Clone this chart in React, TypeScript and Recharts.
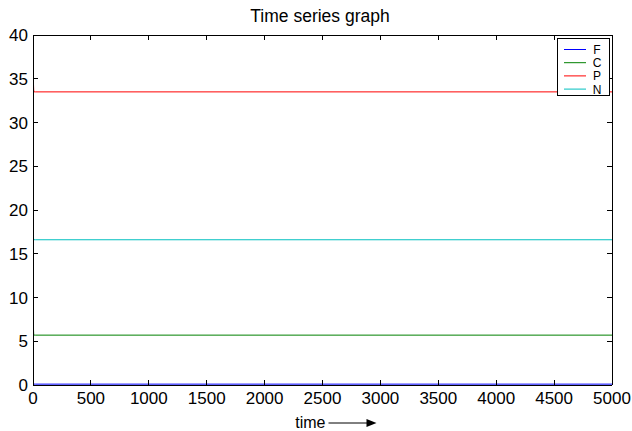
import { Label, Line, LineChart, ReferenceLine, XAxis, YAxis } from "recharts";

// time (x) and the four state variables
const times = [0, 2, 4, 6, 10, 20, 5000];
const fValues = [4, 0.8, 0.3, 0.15, 0.1, 0.1, 0.1];
const cValues = [5, 9.5, 6.5, 5.8, 5.7, 5.7, 5.7];
const pValues = [5, 37, 34.5, 33.7, 33.5, 33.5, 33.5];
const nValues = [5.5, 14, 16.5, 16.7, 16.6, 16.6, 16.6];

const seriesNames = ["F", "C", "P", "N"];
const seriesColors = ["#0000ff", "#008000", "#ff0000", "#00bfbf"];

const xTicks = [0, 500, 1000, 1500, 2000, 2500, 3000, 3500, 4000, 4500, 5000];
const yTicks = [0, 5, 10, 15, 20, 25, 30, 35, 40];

const data = times.map((t, i) => ({
  t,
  F: fValues[i],
  C: cValues[i],
  P: pValues[i],
  N: nValues[i],
}));

const FONT = "'Liberation Sans', Arial, Helvetica, sans-serif";
const TICK_LEN = 5;
const AXIS_LINE = { stroke: "#000", shapeRendering: "crispEdges" };

// inward tick length for the mirrored top / right ticks, in data units
// (plot box is 579 x 350 px for 5000 x 40)
const X_TICK_UNITS = (TICK_LEN * 5000) / 579;
const Y_TICK_UNITS = (TICK_LEN * 40) / 350;

// matlab style: tick marks point into the box
function BottomTick(props: any) {
  const { x, y, payload } = props;
  return (
    <g>
      <line x1={x} y1={y} x2={x} y2={y - TICK_LEN} stroke="#000" shapeRendering="crispEdges" />
      <text
        x={x}
        y={y + 19}
        textAnchor="middle"
        fontSize={17}
        fontFamily={FONT}
        fill="#000"
      >
        {payload.value}
      </text>
    </g>
  );
}

function LeftTick(props: any) {
  const { x, y, payload } = props;
  return (
    <g>
      <line x1={x} y1={y} x2={x + TICK_LEN} y2={y} stroke="#000" shapeRendering="crispEdges" />
      <text
        x={x - 5}
        y={y + 6}
        textAnchor="end"
        fontSize={17}
        fontFamily={FONT}
        fill="#000"
      >
        {payload.value}
      </text>
    </g>
  );
}

function LegendBox() {
  return (
    <svg
      width={53}
      height={58}
      style={{ position: "absolute", left: 557, top: 38, display: "block" }}
    >
      <rect
        x={0.5}
        y={0.5}
        width={52}
        height={57}
        fill="#fff"
        stroke="#000"
      />
      {seriesNames.map((name, i) => {
        const y = 11.5 + i * 13.2;
        return (
          <g key={name}>
            <line
              x1={7}
              x2={29}
              y1={y}
              y2={y}
              stroke={seriesColors[i]}
              strokeWidth={1}
            />
            <text
              x={40}
              y={y + 4.5}
              textAnchor="middle"
              fontSize={12}
              fontFamily={FONT}
              fill="#000"
            >
              {name}
            </text>
          </g>
        );
      })}
    </svg>
  );
}

function TimeLabel(props: any) {
  const { x, y, width } = props.viewBox;
  const cx = x + width / 2;
  const ty = y + 43;

  return (
    <g>
      <text
        x={cx + 3}
        y={ty}
        textAnchor="end"
        fontSize={16}
        fontFamily={FONT}
        fill="#000"
      >
        time
      </text>
      <line x1={cx + 6} x2={cx + 46} y1={ty - 5} y2={ty - 5} stroke="#000" />
      <path
        d={`M${cx + 44} ${ty - 9} L${cx + 54} ${ty - 5} L${cx + 44} ${ty - 1} Z`}
        fill="#000"
      />
    </g>
  );
}

export default function App() {
  return (
    <div
      style={{
        position: "absolute",
        left: 0,
        top: 0,
        width: 632,
        height: 431,
        background: "#fff",
        fontFamily: FONT,
      }}
    >
      <div
        style={{
          position: "absolute",
          left: 0,
          top: 6,
          width: 640,
          textAlign: "center",
          fontSize: 17.5,
          color: "#000",
          fontFamily: FONT,
        }}
      >
        Time series graph
      </div>

      <LineChart
        width={632}
        height={431}
        data={data}
        margin={{ top: 34, right: 19, bottom: 0, left: 0 }}
      >
        <XAxis
          dataKey="t"
          type="number"
          domain={[0, 5000]}
          ticks={xTicks}
          interval={0}
          height={46}
          axisLine={AXIS_LINE}
          tickLine={false}
          tickSize={0}
          tickMargin={0}
          tick={<BottomTick />}
          allowDataOverflow
        >
          <Label content={<TimeLabel />} />
        </XAxis>

        <XAxis
          xAxisId="top"
          orientation="top"
          dataKey="t"
          type="number"
          domain={[0, 5000]}
          ticks={xTicks}
          height={1}
          axisLine={AXIS_LINE}
          tickLine={false}
          tick={false}
        />

        <YAxis
          type="number"
          domain={[0, 40]}
          ticks={yTicks}
          interval={0}
          width={33}
          axisLine={AXIS_LINE}
          tickLine={false}
          tickSize={0}
          tickMargin={0}
          tick={<LeftTick />}
          allowDataOverflow
        />

        <YAxis
          yAxisId="right"
          orientation="right"
          type="number"
          domain={[0, 40]}
          ticks={yTicks}
          width={1}
          axisLine={AXIS_LINE}
          tickLine={false}
          tick={false}
        />

        {/* mirrored inward ticks on top and right edges */}
        {xTicks.map((t) => (
          <ReferenceLine
            key={"top-" + t}
            segment={[
              { x: t, y: 40 },
              { x: t, y: 40 - Y_TICK_UNITS },
            ]}
            stroke="#000"
            shapeRendering="crispEdges"
            ifOverflow="visible"
          />
        ))}
        {yTicks.map((v) => (
          <ReferenceLine
            key={"right-" + v}
            segment={[
              { x: 5000, y: v },
              { x: 5000 - X_TICK_UNITS, y: v },
            ]}
            stroke="#000"
            shapeRendering="crispEdges"
            ifOverflow="visible"
          />
        ))}

        {seriesNames.map((name, i) => (
          <Line
            key={name}
            dataKey={name}
            stroke={seriesColors[i]}
            strokeWidth={1}
            dot={false}
            isAnimationActive={false}
          />
        ))}
      </LineChart>

      <LegendBox />
    </div>
  );
}
